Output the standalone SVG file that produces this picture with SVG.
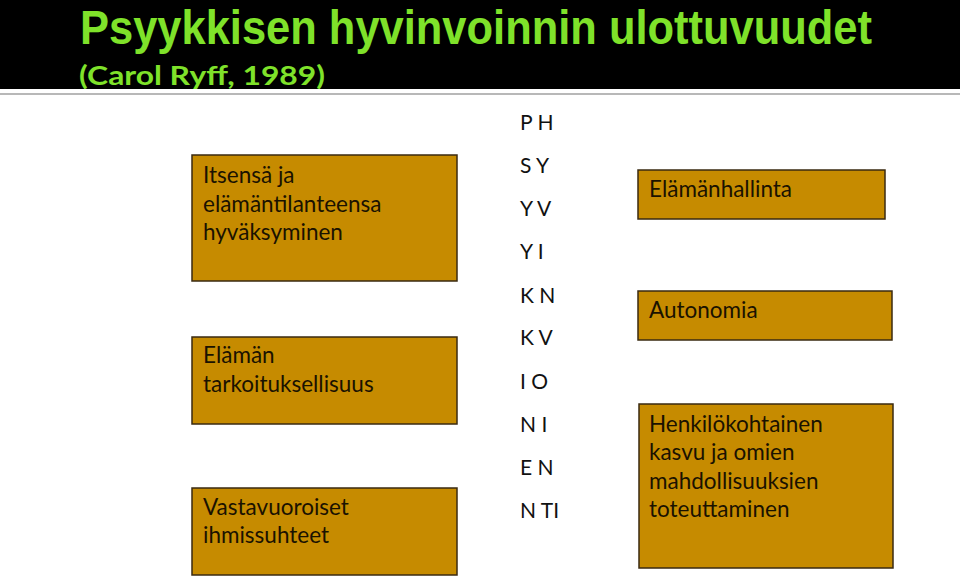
<svg xmlns="http://www.w3.org/2000/svg" width="960" height="579" viewBox="0 0 960 579">
<style>
.box{fill:#C68B00;stroke:#3a2a10;stroke-width:1.5}
.t{font-family:Lato,"Open Sans","Liberation Sans",sans-serif;font-size:22.5px;fill:#1a1200}
.l{font-family:Lato,"Open Sans","Liberation Sans",sans-serif;font-size:21px;fill:#111}
</style>
<rect x="0" y="0" width="960" height="579" fill="#fff"/>
<rect x="0" y="0" width="960" height="89" fill="#000"/>
<line x1="0" y1="94" x2="960" y2="94" stroke="#a0a0a0" stroke-width="1.5"/>
<text x="80" y="44" font-family="'Liberation Sans',Arial,sans-serif" font-weight="bold" font-size="48" fill="#7FE22A" textLength="792" lengthAdjust="spacingAndGlyphs">Psyykkisen hyvinvoinnin ulottuvuudet</text>
<text x="79" y="85" font-family="Lato,'Open Sans',sans-serif" font-weight="bold" font-size="26" fill="#7FE22A" textLength="246" lengthAdjust="spacingAndGlyphs">(Carol Ryff, 1989)</text>
<g id="letters">
<text class="l" x="520" y="130">P H</text>
<text class="l" x="520" y="173">S Y</text>
<text class="l" x="520" y="216">Y V</text>
<text class="l" x="520" y="259">Y I</text>
<text class="l" x="520" y="303">K N</text>
<text class="l" x="520" y="345">K V</text>
<text class="l" x="520" y="389">I O</text>
<text class="l" x="520" y="432">N I</text>
<text class="l" x="520" y="475">E N</text>
<text class="l" x="520" y="518">N TI</text>
</g>
<g id="n1">
<rect class="box" x="192" y="155" width="265" height="126"/>
<text class="t" x="203" y="183">Itsensä ja</text>
<text class="t" x="203" y="212">elämäntilanteensa</text>
<text class="t" x="203" y="240">hyväksyminen</text>
</g>
<g id="n2">
<rect class="box" x="192" y="337" width="265" height="87"/>
<text class="t" x="203" y="363">Elämän</text>
<text class="t" x="203" y="392">tarkoituksellisuus</text>
</g>
<g id="n3">
<rect class="box" x="192" y="488" width="265" height="87"/>
<text class="t" x="203" y="515">Vastavuoroiset</text>
<text class="t" x="203" y="543">ihmissuhteet</text>
</g>
<g id="n4">
<rect class="box" x="638" y="170" width="247" height="49"/>
<text class="t" x="649" y="197">Elämänhallinta</text>
</g>
<g id="n5">
<rect class="box" x="638" y="291" width="254" height="49"/>
<text class="t" x="649" y="318">Autonomia</text>
</g>
<g id="n6">
<rect class="box" x="639" y="404" width="254" height="164"/>
<text class="t" x="649" y="432">Henkilökohtainen</text>
<text class="t" x="649" y="460">kasvu ja omien</text>
<text class="t" x="649" y="489">mahdollisuuksien</text>
<text class="t" x="649" y="517">toteuttaminen</text>
</g>
<g id="connectors"/>
</svg>
